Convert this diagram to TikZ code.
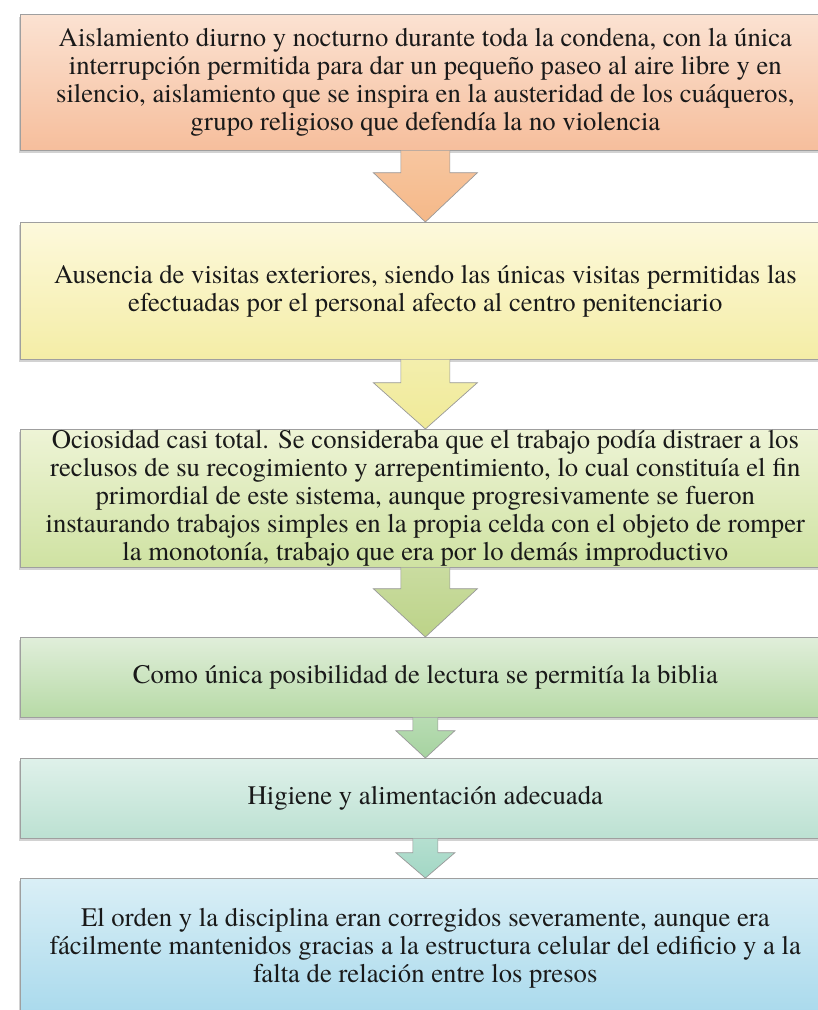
\documentclass[tikz,border=0pt]{standalone}
\usepackage{fontspec}
\setmainfont{TeX Gyre Termes}
\usetikzlibrary{calc,shadows}

\definecolor{naranjaA}{HTML}{FBE2D2}
\definecolor{naranjaB}{HTML}{F6BE9C}
\definecolor{amarilloA}{HTML}{FDF9DC}
\definecolor{amarilloB}{HTML}{F4EDA6}
\definecolor{olivaA}{HTML}{EEF4D6}
\definecolor{olivaB}{HTML}{CFE2A2}
\definecolor{verdeA}{HTML}{E0EEDA}
\definecolor{verdeB}{HTML}{B7DAA6}
\definecolor{mentaA}{HTML}{DFF1EA}
\definecolor{mentaB}{HTML}{BCE1D2}
\definecolor{celesteA}{HTML}{DAEFF6}
\definecolor{celesteB}{HTML}{A8D9EC}
% colores de las flechas
\definecolor{flNaranja}{HTML}{F5B888}
\definecolor{flAmarillo}{HTML}{F0EA98}
\definecolor{flOliva}{HTML}{BCD388}
\definecolor{flVerde}{HTML}{A6D3A0}
\definecolor{flMenta}{HTML}{A2D7C4}

\tikzset{
    paso/.style={draw=gray!75, line width=0.6pt, anchor=north west,
        minimum width=24.3cm, inner sep=0pt, align=center,
        font=\fontsize{22.8}{23.9}\selectfont, text=black!90,
        drop shadow={shadow xshift=-0.8pt, shadow yshift=-2pt, opacity=0.35}},
    flechita/.style={draw=gray!80, line width=0.6pt}
}

% flecha de bloque: desde, hasta, medio cuello, media cabeza, largo cuello, color
\newcommand\flecha[6]{%
    \draw[flechita, top color=#6!80!white, bottom color=#6]
        ($(#1.south)+(-#3,0)$) -- ($(#1.south)+(-#3,#5)$)
        -- ($(#1.south)+(-#4,#5)$) -- (#2.north)
        -- ($(#1.south)+(#4,#5)$) -- ($(#1.south)+(#3,#5)$)
        -- ($(#1.south)+(#3,0)$);
}

\begin{document}
\begin{tikzpicture}[x=0.03cm, y=-0.03cm]
    \useasboundingbox (0,0) rectangle (818,1010);
    \fill[white] (0,0) rectangle (818,1010);
    \clip (0,0) rectangle (818,1010);

    \node[paso, top color=naranjaA, bottom color=naranjaB, minimum height=4.08cm] (cond) at (20,14)
        {Aislamiento diurno y nocturno durante toda la condena, con la única\\
         interrupción permitida para dar un pequeño paseo al aire libre y en\\
         silencio, aislamiento que se inspira en la austeridad de los cuáqueros,\\
         grupo religioso que defendía la no violencia};

    \node[paso, top color=amarilloA, bottom color=amarilloB, minimum height=4.11cm] (visitas) at (20,222)
        {Ausencia de visitas exteriores, siendo las únicas visitas permitidas las\\
         efectuadas por el personal afecto al centro penitenciario};

    \node[paso, top color=olivaA, bottom color=olivaB, minimum height=4.14cm] (ocio) at (20,429)
        {Ociosidad casi total. Se consideraba que el trabajo podía distraer a los\\
         reclusos de su recogimiento y arrepentimiento, lo cual constituía el fin\\
         primordial de este sistema, aunque progresivamente se fueron\\
         instaurando trabajos simples en la propia celda con el objeto de romper\\
         la monotonía, trabajo que era por lo demás improductivo};

    \node[paso, top color=verdeA, bottom color=verdeB, minimum height=2.4cm] (biblia) at (20,637)
        {Como única posibilidad de lectura se permitía la biblia};

    \node[paso, top color=mentaA, bottom color=mentaB, minimum height=2.4cm] (higiene) at (20,758)
        {Higiene y alimentación adecuada};

    \node[paso, top color=celesteA, bottom color=celesteB, minimum height=4.2cm] (orden) at (20,878)
        {El orden y la disciplina eran corregidos severamente, aunque era\\
         fácilmente mantenidos gracias a la estructura celular del edificio y a la\\
         falta de relación entre los presos};

    \flecha{cond}{visitas}{24.5}{52}{22}{flNaranja}
    \flecha{visitas}{ocio}{24.5}{52}{23}{flAmarillo}
    \flecha{ocio}{biblia}{24.5}{52}{21}{flOliva}
    \flecha{biblia}{higiene}{12.5}{29.5}{13}{flVerde}
    \flecha{higiene}{orden}{12.5}{29.5}{14}{flMenta}
\end{tikzpicture}
\end{document}
